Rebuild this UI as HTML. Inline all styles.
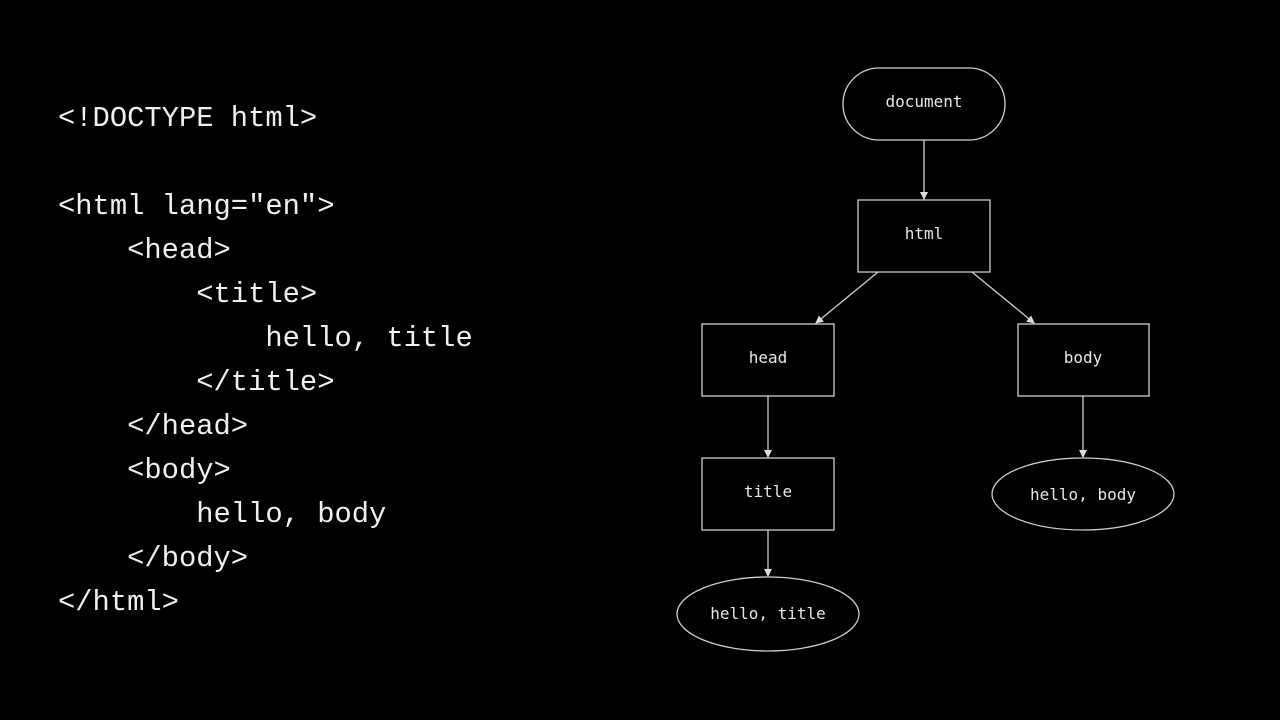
<!DOCTYPE html>
<html><head><style>
body{margin:0;background:#000;width:1280px;height:720px;overflow:hidden;position:relative}
.code{position:absolute;left:58px;top:2px;font-family:"Liberation Mono","DejaVu Sans Mono",monospace;font-size:28.8px;color:#f0f0f0;white-space:pre}
.code div{position:absolute;left:0;line-height:44px;height:44px}
</style></head><body>
<div class="code">
<div style="top:95px">&lt;!DOCTYPE html&gt;</div>
<div style="top:183px">&lt;html lang="en"&gt;</div>
<div style="top:227px">    &lt;head&gt;</div>
<div style="top:271px">        &lt;title&gt;</div>
<div style="top:315px">            hello, title</div>
<div style="top:359px">        &lt;/title&gt;</div>
<div style="top:403px">    &lt;/head&gt;</div>
<div style="top:447px">    &lt;body&gt;</div>
<div style="top:491px">        hello, body</div>
<div style="top:535px">    &lt;/body&gt;</div>
<div style="top:579px">&lt;/html&gt;</div>
</div>
<svg width="1280" height="720" style="position:absolute;left:0;top:0">
<defs><marker id="a" markerWidth="8" markerHeight="8" refX="7" refY="4" orient="auto" markerUnits="userSpaceOnUse"><path d="M0,0 L8,4 L0,8 z" fill="#ddd"/></marker></defs>
<g fill="none" stroke="#cfcfcf" stroke-width="1.3">
<rect x="843" y="68" width="162" height="72" rx="36"/>
<rect x="858" y="200" width="132" height="72"/>
<rect x="702" y="324" width="132" height="72"/>
<rect x="1018" y="324" width="131" height="72"/>
<rect x="702" y="458" width="132" height="72"/>
<ellipse cx="1083" cy="494" rx="91" ry="36"/>
<ellipse cx="768" cy="614" rx="91" ry="37"/>
<g marker-end="url(#a)">
<line x1="924" y1="140" x2="924" y2="199"/>
<line x1="878" y1="272" x2="816" y2="323"/>
<line x1="972" y1="272" x2="1034" y2="323"/>
<line x1="768" y1="396" x2="768" y2="457"/>
<line x1="1083" y1="396" x2="1083" y2="457"/>
<line x1="768" y1="530" x2="768" y2="576"/>
</g></g>
<g fill="#e8e8e8" font-family="DejaVu Sans Mono,Liberation Mono,monospace" font-size="16" text-anchor="middle">
<text x="924" y="107">document</text>
<text x="924" y="239">html</text>
<text x="768" y="363">head</text>
<text x="1083" y="363">body</text>
<text x="768" y="497">title</text>
<text x="1083" y="500">hello, body</text>
<text x="768" y="619">hello, title</text>
</g>
</svg>
</body></html>
